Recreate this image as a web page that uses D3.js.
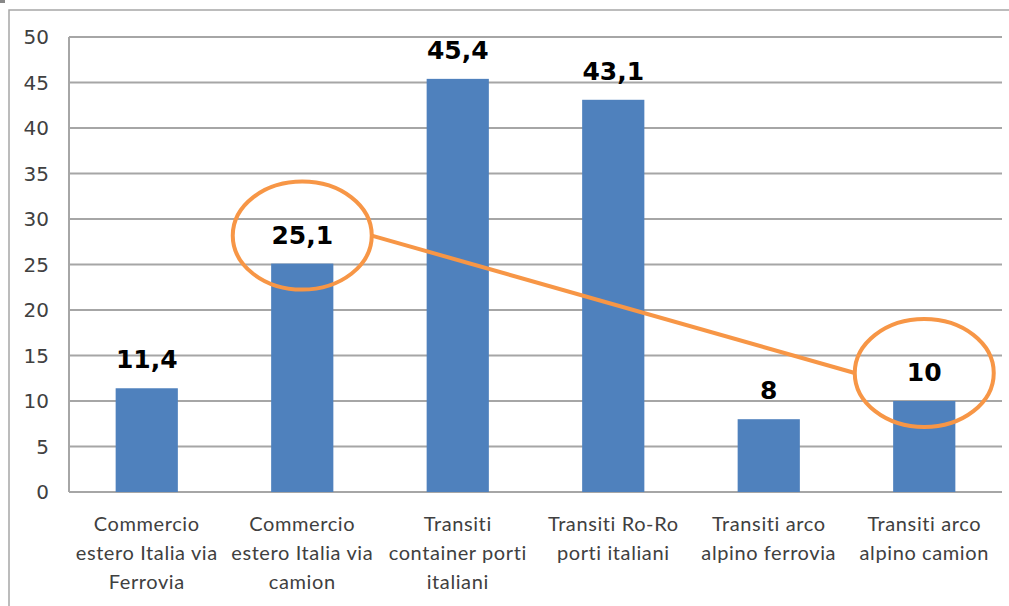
<!DOCTYPE html>
<html>
<head>
<meta charset="utf-8">
<script src="https://cdn.jsdelivr.net/npm/d3@7"></script>
<style>
  body { margin: 0; background: #fff; }
  svg { display: block; }
</style>
</head>
<body>
<div id="chart"></div>
<script>
// data
var categories = [
  ["Commercio", "estero Italia via", "Ferrovia"],
  ["Commercio", "estero Italia via", "camion"],
  ["Transiti", "container porti", "italiani"],
  ["Transiti Ro-Ro", "porti italiani"],
  ["Transiti arco", "alpino ferrovia"],
  ["Transiti arco", "alpino camion"]
];
var values = [11.4, 25.1, 45.4, 43.1, 8, 10];
var yTicks = [0, 5, 10, 15, 20, 25, 30, 35, 40, 45, 50];
var highlighted = [1, 5]; // bars circled and joined by the orange line

var W = 1009, H = 606;
var margin = { top: 37, right: 7, bottom: 114, left: 69 };

var svg = d3.select("#chart").append("svg")
  .attr("width", W)
  .attr("height", H);

// outer frame
svg.append("path")
  .attr("d", "M9," + H + "V10H" + W)
  .attr("fill", "none")
  .attr("stroke", "#a6a6a6")
  .attr("stroke-width", 1.5);
svg.append("rect").attr("x", 0).attr("y", 0).attr("width", 5).attr("height", 3).attr("fill", "#888");

var x = d3.scaleBand()
  .domain(d3.range(values.length))
  .range([margin.left, W - margin.right])
  .paddingInner(0.6)
  .paddingOuter(0.3);

var y = d3.scaleLinear()
  .domain([0, 50])
  .range([H - margin.bottom, margin.top]);

// gridlines
svg.append("g")
  .selectAll("line")
  .data(yTicks)
  .enter()
  .append("line")
  .attr("x1", margin.left)
  .attr("x2", W - margin.right)
  .attr("y1", d => y(d))
  .attr("y2", d => y(d))
  .attr("stroke", "#a6a6a6")
  .attr("stroke-width", 2);

// left axis line
svg.append("line")
  .attr("x1", margin.left).attr("x2", margin.left)
  .attr("y1", y(50)).attr("y2", y(0))
  .attr("stroke", "#a6a6a6")
  .attr("stroke-width", 2);

// tick labels
svg.append("g")
  .selectAll("text")
  .data(yTicks)
  .enter()
  .append("text")
  .attr("x", 49)
  .attr("y", d => y(d))
  .attr("dy", "0.36em")
  .attr("text-anchor", "end")
  .attr("font-family", "DejaVu Sans")
  .attr("font-size", 20)
  .attr("fill", "#404040")
  .text(d => d);

// bars
svg.append("g")
  .selectAll("rect")
  .data(values)
  .enter()
  .append("rect")
  .attr("x", (d, i) => x(i))
  .attr("width", x.bandwidth())
  .attr("y", d => y(d))
  .attr("height", d => y(0) - y(d))
  .attr("fill", "#4f81bd");

// value labels
var fmt = d => String(d).replace(".", ",");
svg.append("g")
  .selectAll("text")
  .data(values)
  .enter()
  .append("text")
  .attr("x", (d, i) => x(i) + x.bandwidth() / 2)
  .attr("y", d => y(d) - 20)
  .attr("text-anchor", "middle")
  .attr("font-family", "DejaVu Sans")
  .attr("font-weight", "bold")
  .attr("font-size", 25)
  .attr("fill", "#000")
  .text(fmt);

// category labels
var cat = svg.append("g")
  .selectAll("text")
  .data(categories)
  .enter()
  .append("text")
  .attr("x", (d, i) => x(i) + x.bandwidth() / 2)
  .attr("y", 531)
  .attr("text-anchor", "middle")
  .attr("font-family", "Lato")
  .attr("font-size", 20)
  .attr("letter-spacing", 0.6)
  .attr("fill", "#404040");
cat.selectAll("tspan")
  .data(d => d)
  .enter()
  .append("tspan")
  .attr("x", function () { return d3.select(this.parentNode).attr("x"); })
  .attr("dy", (d, j) => j === 0 ? 0 : 29)
  .text(d => d);

// orange annotation: two ellipses joined by a line
var rx = 69.5, ry = 54;
var pts = highlighted.map(i => ({ cx: x(i) + x.bandwidth() / 2, cy: y(values[i]) - 28 }));

svg.append("line")
  .attr("x1", pts[0].cx + rx)
  .attr("y1", pts[0].cy)
  .attr("x2", pts[1].cx - rx)
  .attr("y2", pts[1].cy)
  .attr("stroke", "#f79646")
  .attr("stroke-width", 4);

svg.append("g")
  .selectAll("ellipse")
  .data(pts)
  .enter()
  .append("ellipse")
  .attr("cx", d => d.cx)
  .attr("cy", d => d.cy)
  .attr("rx", rx)
  .attr("ry", ry)
  .attr("fill", "none")
  .attr("stroke", "#f79646")
  .attr("stroke-width", 4);
</script>
</body>
</html>
